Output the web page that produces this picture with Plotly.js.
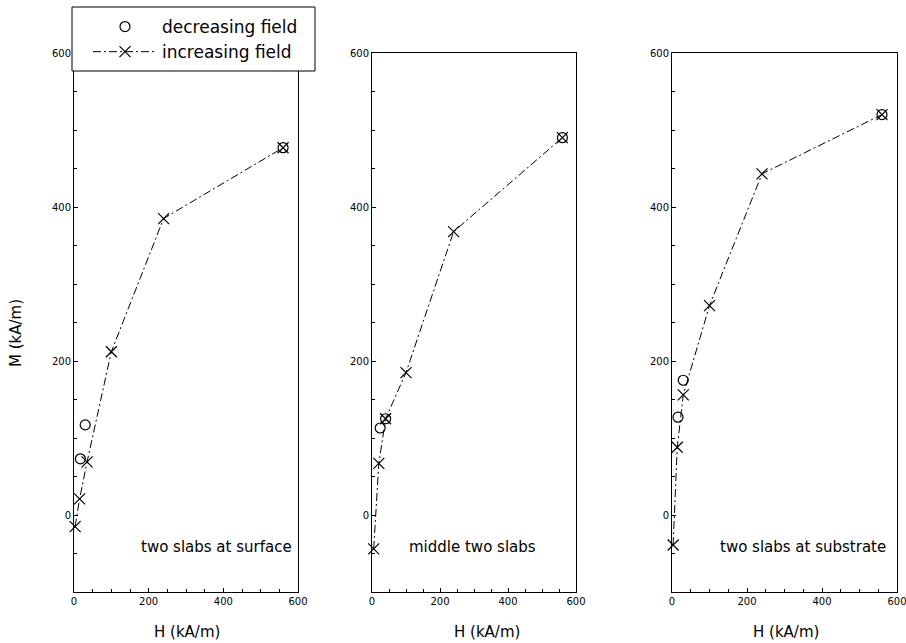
<!DOCTYPE html>
<html>
<head>
<meta charset="utf-8">
<script src="https://cdn.plot.ly/plotly-3.0.1.min.js"></script>
<style>
  html, body { margin: 0; padding: 0; background: #fff; }
  #chart { width: 906px; height: 643px; }
</style>
</head>
<body>
<div id="chart"></div>
<script>
// Magnetization M vs applied field H for three slab positions (kA/m)

// Panel 1: two slabs at surface
const surfIncH = [3, 15, 35, 100, 240, 560];
const surfIncM = [-15, 21, 69, 212, 385, 477];
const surfDecH = [17, 30, 560];
const surfDecM = [73, 117, 477];

// Panel 2: middle two slabs
const midIncH = [5, 20, 40, 100, 240, 560];
const midIncM = [-44, 67, 125, 185, 368, 490];
const midDecH = [24, 40, 560];
const midDecM = [113, 125, 490];

// Panel 3: two slabs at substrate
const subIncH = [3, 14, 30, 100, 240, 560];
const subIncM = [-39, 88, 156, 272, 443, 520];
const subDecH = [16, 30, 560];
const subDecM = [127, 175, 520];

const panelLabels = ['two slabs at surface', 'middle two slabs', 'two slabs at substrate'];
const tickVals = [0, 200, 400, 600];
const tickText = ['0', '200', '400', '600'];

const FONT = 'DejaVu Sans, Liberation Sans, sans-serif';
const lineDash = '8px,3px,2px,3px';

const panels = [
  {incH: surfIncH, incM: surfIncM, decH: surfDecH, decM: surfDecM},
  {incH: midIncH, incM: midIncM, decH: midDecH, decM: midDecM},
  {incH: subIncH, incM: subIncM, decH: subDecH, decM: subDecM}
];

const traces = [];
panels.forEach((p, i) => {
  const xa = i === 0 ? 'x' : 'x' + (i + 1);
  const ya = i === 0 ? 'y' : 'y' + (i + 1);
  traces.push({
    type: 'scatter', mode: 'markers', name: 'decreasing field',
    x: p.decH, y: p.decM, xaxis: xa, yaxis: ya,
    marker: {symbol: 'circle-open', size: 10, color: '#000', line: {width: 1.2, color: '#000'}},
    showlegend: i === 0, legendrank: 1, cliponaxis: false
  });
  traces.push({
    type: 'scatter', mode: 'lines+markers', name: 'increasing field',
    x: p.incH, y: p.incM, xaxis: xa, yaxis: ya,
    line: {color: '#000', width: 1, dash: lineDash},
    marker: {symbol: 'x-thin-open', size: 11, color: '#000', line: {width: 1.2, color: '#000'}},
    showlegend: i === 0, legendrank: 2, cliponaxis: false
  });
});

const W = 906, H = 643;
const xDomains = [[74 / W, 298 / W], [372 / W, 576 / W], [672 / W, 897 / W]];
const yDomain = [1 - 592 / H, 1 - 53 / H];

function xAxis(d) {
  return {
    domain: d, range: [0, 600], tickvals: tickVals, ticktext: tickText,
    ticks: 'inside', ticklen: 4, tickwidth: 1, tickcolor: '#000',
    minor: {dtick: 50, ticks: 'inside', ticklen: 3, tickcolor: '#000'},
    showline: true, linecolor: '#000', linewidth: 1, mirror: true,
    showgrid: false, zeroline: false, fixedrange: true,
    ticklabeloverflow: 'allow',
    tickfont: {family: FONT, size: 10, color: '#000'}
  };
}
function yAxis(anchor) {
  return {
    domain: yDomain, range: [-100, 600], tickvals: tickVals, ticktext: tickText,
    ticks: 'inside', ticklen: 4, tickwidth: 1, tickcolor: '#000',
    minor: {dtick: 50, ticks: 'inside', ticklen: 3, tickcolor: '#000'},
    showline: true, linecolor: '#000', linewidth: 1, mirror: true,
    showgrid: false, zeroline: false, fixedrange: true, anchor: anchor,
    ticklabeloverflow: 'allow',
    tickfont: {family: FONT, size: 10, color: '#000'}
  };
}

const annotations = [];
const labelCenters = [216, 472, 803];
panelLabels.forEach((t, i) => {
  annotations.push({
    xref: 'paper', yref: 'paper', x: labelCenters[i] / W, y: 1 - 547 / H,
    text: t, showarrow: false, xanchor: 'center', yanchor: 'middle',
    font: {family: FONT, size: 15, color: '#000'}
  });
});
const hTitleCenters = [187, 487, 786];
hTitleCenters.forEach(c => {
  annotations.push({
    xref: 'paper', yref: 'paper', x: c / W, y: 1 - 632 / H,
    text: 'H (kA/m)', showarrow: false, xanchor: 'center', yanchor: 'middle',
    font: {family: FONT, size: 15, color: '#000'}
  });
});
annotations.push({
  xref: 'paper', yref: 'paper', x: 16 / W, y: 1 - 333 / H,
  text: 'M (kA/m)', showarrow: false, textangle: -90,
  xanchor: 'center', yanchor: 'middle',
  font: {family: FONT, size: 15, color: '#000'}
});

// legend frame (white box covering the top of the first panel)
const shapes = [{
  type: 'rect', xref: 'paper', yref: 'paper', layer: 'above',
  x0: 72 / W, x1: 315 / W, y0: 1 - 71 / H, y1: 1 - 7 / H,
  fillcolor: '#fff', line: {color: '#000', width: 1}
}];

const layout = {
  width: W, height: H,
  margin: {l: 0, r: 0, t: 0, b: 0},
  paper_bgcolor: '#fff', plot_bgcolor: '#fff',
  font: {family: FONT, color: '#000'},
  xaxis: Object.assign(xAxis(xDomains[0]), {anchor: 'y'}),
  xaxis2: Object.assign(xAxis(xDomains[1]), {anchor: 'y2'}),
  xaxis3: Object.assign(xAxis(xDomains[2]), {anchor: 'y3'}),
  yaxis: yAxis('x'),
  yaxis2: yAxis('x2'),
  yaxis3: yAxis('x3'),
  showlegend: true,
  legend: {
    x: 88 / W, y: 1 - 9 / H, xanchor: 'left', yanchor: 'top',
    bgcolor: 'rgba(0,0,0,0)', borderwidth: 0,
    font: {family: FONT, size: 17, color: '#000'},
    itemwidth: 64, tracegroupgap: 0
  },
  shapes: shapes,
  annotations: annotations
};

Plotly.newPlot('chart', traces, layout, {displayModeBar: false, staticPlot: true});
</script>
</body>
</html>
